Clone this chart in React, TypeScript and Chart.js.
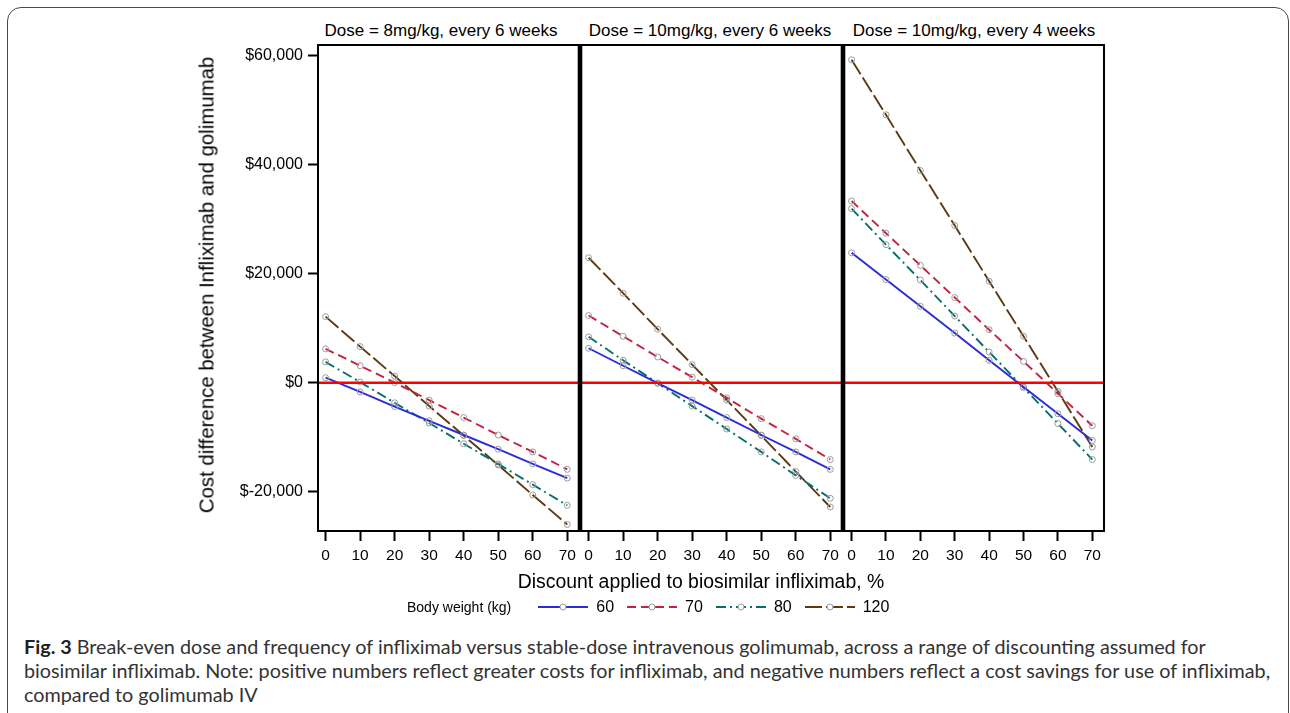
import React, { useEffect, useRef } from "react";
import { Chart, registerables } from "chart.js";

Chart.register(...registerables);

// ---------- data ----------
const discount = [0, 10, 20, 30, 40, 50, 60, 70];
const weightLabels = ["60", "70", "80", "120"];
const panelTitles = [
  "Dose = 8mg/kg, every 6 weeks",
  "Dose = 10mg/kg, every 6 weeks",
  "Dose = 10mg/kg, every 4 weeks",
];

// Dose = 8mg/kg every 6 weeks
const d8q6_w60 = [900, -1700, -4400, -7000, -9600, -12200, -14900, -17500];
const d8q6_w70 = [6200, 3100, 0, -3200, -6400, -9600, -12700, -15900];
const d8q6_w80 = [3800, 100, -3700, -7400, -11200, -14900, -18700, -22500];
const d8q6_w120 = [12100, 6600, 1200, -4300, -9700, -15100, -20600, -26000];

// Dose = 10mg/kg every 6 weeks
const d10q6_w60 = [6300, 3100, -100, -3200, -6400, -9600, -12700, -15900];
const d10q6_w70 = [12300, 8500, 4700, 1000, -2800, -6600, -10300, -14100];
const d10q6_w80 = [8400, 4100, -100, -4300, -8500, -12700, -17000, -21200];
const d10q6_w120 = [22900, 16400, 9800, 3300, -3200, -9700, -16300, -22800];

// Dose = 10mg/kg every 4 weeks
const d10q4_w60 = [23800, 18900, 14000, 9100, 4100, -800, -5700, -10600];
const d10q4_w70 = [33300, 27400, 21500, 15600, 9700, 3900, -2000, -7900];
const d10q4_w80 = [31900, 25300, 18800, 12200, 5600, -900, -7500, -14100];
const d10q4_w120 = [59200, 49100, 38900, 28800, 18600, 8500, -1600, -11800];

const panelSeries = [
  [d8q6_w60, d8q6_w70, d8q6_w80, d8q6_w120],
  [d10q6_w60, d10q6_w70, d10q6_w80, d10q6_w120],
  [d10q4_w60, d10q4_w70, d10q4_w80, d10q4_w120],
];

const yTickValues = [-20000, 0, 20000, 40000, 60000];
const yTickLabels = ["$-20,000", "$0", "$20,000", "$40,000", "$60,000"];
const xTickValues = [0, 10, 20, 30, 40, 50, 60, 70];

// ---------- styles ----------
const seriesColors = ["#2b2bd9", "#c1223f", "#05706a", "#5b3a13"];
const seriesDash: number[][] = [[], [9, 5], [10, 4, 2, 4], [17, 4]];
const FONT = "'Liberation Sans', Arial, Helvetica, sans-serif";

const PANEL_LEFT = [318, 580, 843];
const PANEL_RIGHT = [580, 843, 1105];
const TITLE_CENTER = [441, 710, 974];
const PLOT_TOP = 44;
const PLOT_BOTTOM = 531;
const Y_AXIS_W = 100;
const X_AXIS_H = 45;
const PAD = 4;

const framePlugin = {
  id: "frame",
  afterDatasetsDraw(chart: any) {
    const { ctx, chartArea } = chart;
    const y0 = chart.scales.y.getPixelForValue(0);
    ctx.save();
    ctx.strokeStyle = "#ff0000";
    ctx.lineWidth = 2.5;
    ctx.beginPath();
    ctx.moveTo(chartArea.left, y0);
    ctx.lineTo(chartArea.right, y0);
    ctx.stroke();
    ctx.restore();
  },
  afterDraw(chart: any, _args: any, opts: any) {
    const { ctx, chartArea } = chart;
    const idx = opts.idx;
    ctx.save();
    ctx.strokeStyle = "#000";
    ctx.lineWidth = 2;
    ctx.strokeRect(
      chartArea.left,
      chartArea.top,
      chartArea.right - chartArea.left,
      chartArea.bottom - chartArea.top
    );
    ctx.lineWidth = 2.6;
    ctx.beginPath();
    if (idx > 0) {
      ctx.moveTo(chartArea.left, chartArea.top);
      ctx.lineTo(chartArea.left, chartArea.bottom);
    }
    if (idx < 2) {
      ctx.moveTo(chartArea.right, chartArea.top);
      ctx.lineTo(chartArea.right, chartArea.bottom);
    }
    ctx.stroke();
    ctx.restore();
  },
};

function canvasGeom(i: number) {
  const yW = i === 0 ? Y_AXIS_W : 0;
  const left = PANEL_LEFT[i] - yW - PAD;
  const top = PLOT_TOP - PAD;
  const width = yW + (PANEL_RIGHT[i] - PANEL_LEFT[i]) + 2 * PAD;
  const height = PLOT_BOTTOM - PLOT_TOP + X_AXIS_H + 2 * PAD;
  return { left, top, width, height };
}

function makeChart(canvas: HTMLCanvasElement, i: number) {
  const datasets = panelSeries[i].map((vals, s) => ({
    label: weightLabels[s],
    data: discount.map((x, k) => ({ x, y: vals[k] })),
    borderColor: seriesColors[s],
    borderWidth: 1.9,
    borderDash: seriesDash[s],
    pointRadius: 3,
    pointBorderWidth: 1,
    pointBorderColor: "#9b9b9b",
    pointBackgroundColor: "rgba(255,255,255,0)",
    tension: 0,
    fill: false,
  }));
  return new Chart(canvas, {
    type: "line",
    data: { datasets },
    plugins: [framePlugin],
    options: {
      responsive: false,
      animation: false,
      events: [],
      layout: { padding: PAD },
      plugins: {
        legend: { display: false },
        tooltip: { enabled: false },
        frame: { idx: i },
      } as any,
      scales: {
        x: {
          type: "linear",
          min: -2.2,
          max: 73.4,
          afterBuildTicks: (scale: any) => {
            scale.ticks = xTickValues.map((v) => ({ value: v }));
          },
          afterFit: (scale: any) => {
            scale.height = X_AXIS_H;
            scale.paddingLeft = 0;
            scale.paddingRight = 0;
          },
          grid: {
            drawOnChartArea: false,
            drawTicks: true,
            tickLength: 10,
            tickWidth: 2,
            tickColor: "#000",
          },
          border: { display: false },
          ticks: {
            color: "#000",
            padding: 5,
            maxRotation: 0,
            autoSkip: false,
            font: { family: FONT, size: 15.5 },
            callback: (v: any) => String(v),
          },
        },
        y: {
          type: "linear",
          display: i === 0,
          min: -27200,
          max: 61900,
          afterBuildTicks: (scale: any) => {
            scale.ticks = yTickValues.map((v) => ({ value: v }));
          },
          afterFit: (scale: any) => {
            scale.width = i === 0 ? Y_AXIS_W : 0;
            scale.paddingTop = 0;
            scale.paddingBottom = 0;
          },
          grid: {
            drawOnChartArea: false,
            drawTicks: true,
            tickLength: 10,
            tickWidth: 2,
            tickColor: "#000",
          },
          border: { display: false },
          ticks: {
            color: "#000",
            padding: 5,
            font: { family: FONT, size: 16 },
            callback: (v: any) => yTickLabels[yTickValues.indexOf(Number(v))],
          },
        },
      },
    } as any,
  });
}

function LegendSample({ color, dash }: { color: string; dash: number[] }) {
  return (
    <svg width={50} height={12} style={{ display: "block", marginRight: 8 }}>
      <line
        x1={0}
        y1={6}
        x2={50}
        y2={6}
        stroke={color}
        strokeWidth={2}
        strokeDasharray={dash.length ? dash.join(" ") : undefined}
      />
      <circle cx={25} cy={6} r={3} fill="#fff" stroke="#9b9b9b" strokeWidth={1} />
    </svg>
  );
}

export default function App() {
  const refs = [
    useRef<HTMLCanvasElement>(null),
    useRef<HTMLCanvasElement>(null),
    useRef<HTMLCanvasElement>(null),
  ];

  useEffect(() => {
    const charts = refs.map((r, i) => makeChart(r.current as HTMLCanvasElement, i));
    return () => charts.forEach((c) => c.destroy());
  }, []);

  return (
    <div
      style={{
        position: "fixed",
        left: 0,
        top: 0,
        width: 1290,
        height: 713,
        overflow: "hidden",
        background: "#fff",
        fontFamily: FONT,
      }}
    >
      {/* outer frame */}
      <div
        style={{
          position: "absolute",
          left: 7,
          top: 7,
          width: 1282,
          height: 720,
          border: "1.5px solid #4a4a4a",
          borderRadius: "14px 14px 0 0",
          boxSizing: "border-box",
        }}
      />

      {/* panel titles */}
      {panelTitles.map((t, i) => (
        <div
          key={t}
          style={{
            position: "absolute",
            left: TITLE_CENTER[i],
            top: 31,
            transform: "translate(-50%, -50%)",
            fontSize: 17,
            lineHeight: "20px",
            color: "#000",
            whiteSpace: "nowrap",
          }}
        >
          {t}
        </div>
      ))}

      {/* charts */}
      {[0, 1, 2].map((i) => {
        const g = canvasGeom(i);
        return (
          <canvas
            key={i}
            ref={refs[i]}
            width={g.width}
            height={g.height}
            style={{
              position: "absolute",
              left: g.left,
              top: g.top,
              width: g.width,
              height: g.height,
            }}
          />
        );
      })}

      {/* y axis title */}
      <div
        style={{
          position: "absolute",
          left: 207,
          top: 285,
          transform: "translate(-50%, -50%) rotate(-90deg)",
          fontSize: 20.4,
          whiteSpace: "nowrap",
          color: "#000",
        }}
      >
        Cost difference between Infliximab and golimumab
      </div>

      {/* x axis title */}
      <div
        style={{
          position: "absolute",
          left: 701,
          top: 581,
          transform: "translate(-50%, -50%)",
          fontSize: 19.4,
          whiteSpace: "nowrap",
          color: "#000",
        }}
      >
        Discount applied to biosimilar infliximab, %
      </div>

      {/* legend */}
      <div
        style={{
          position: "absolute",
          left: 407,
          top: 597,
          height: 20,
          display: "flex",
          alignItems: "center",
          whiteSpace: "nowrap",
          color: "#000",
        }}
      >
        <span style={{ fontSize: 14, marginRight: 27 }}>Body weight (kg)</span>
        {weightLabels.map((w, s) => (
          <React.Fragment key={w}>
            <LegendSample color={seriesColors[s]} dash={seriesDash[s]} />
            <span style={{ fontSize: 16, marginRight: 13 }}>{w}</span>
          </React.Fragment>
        ))}
      </div>

      {/* caption */}
      <div
        style={{
          position: "absolute",
          left: 24,
          top: 634,
          fontFamily: "Lato, 'Noto Sans', sans-serif",
          fontSize: 19.8,
          lineHeight: "24px",
          color: "#333",
          whiteSpace: "nowrap",
        }}
      >
        <b style={{ color: "#222" }}>Fig. 3</b> Break-even dose and frequency of infliximab versus
        stable-dose intravenous golimumab, across a range of discounting assumed for
        <br />
        biosimilar infliximab. Note: positive numbers reflect greater costs for infliximab, and
        negative numbers reflect a cost savings for use of infliximab,
        <br />
        compared to golimumab IV
      </div>
    </div>
  );
}
